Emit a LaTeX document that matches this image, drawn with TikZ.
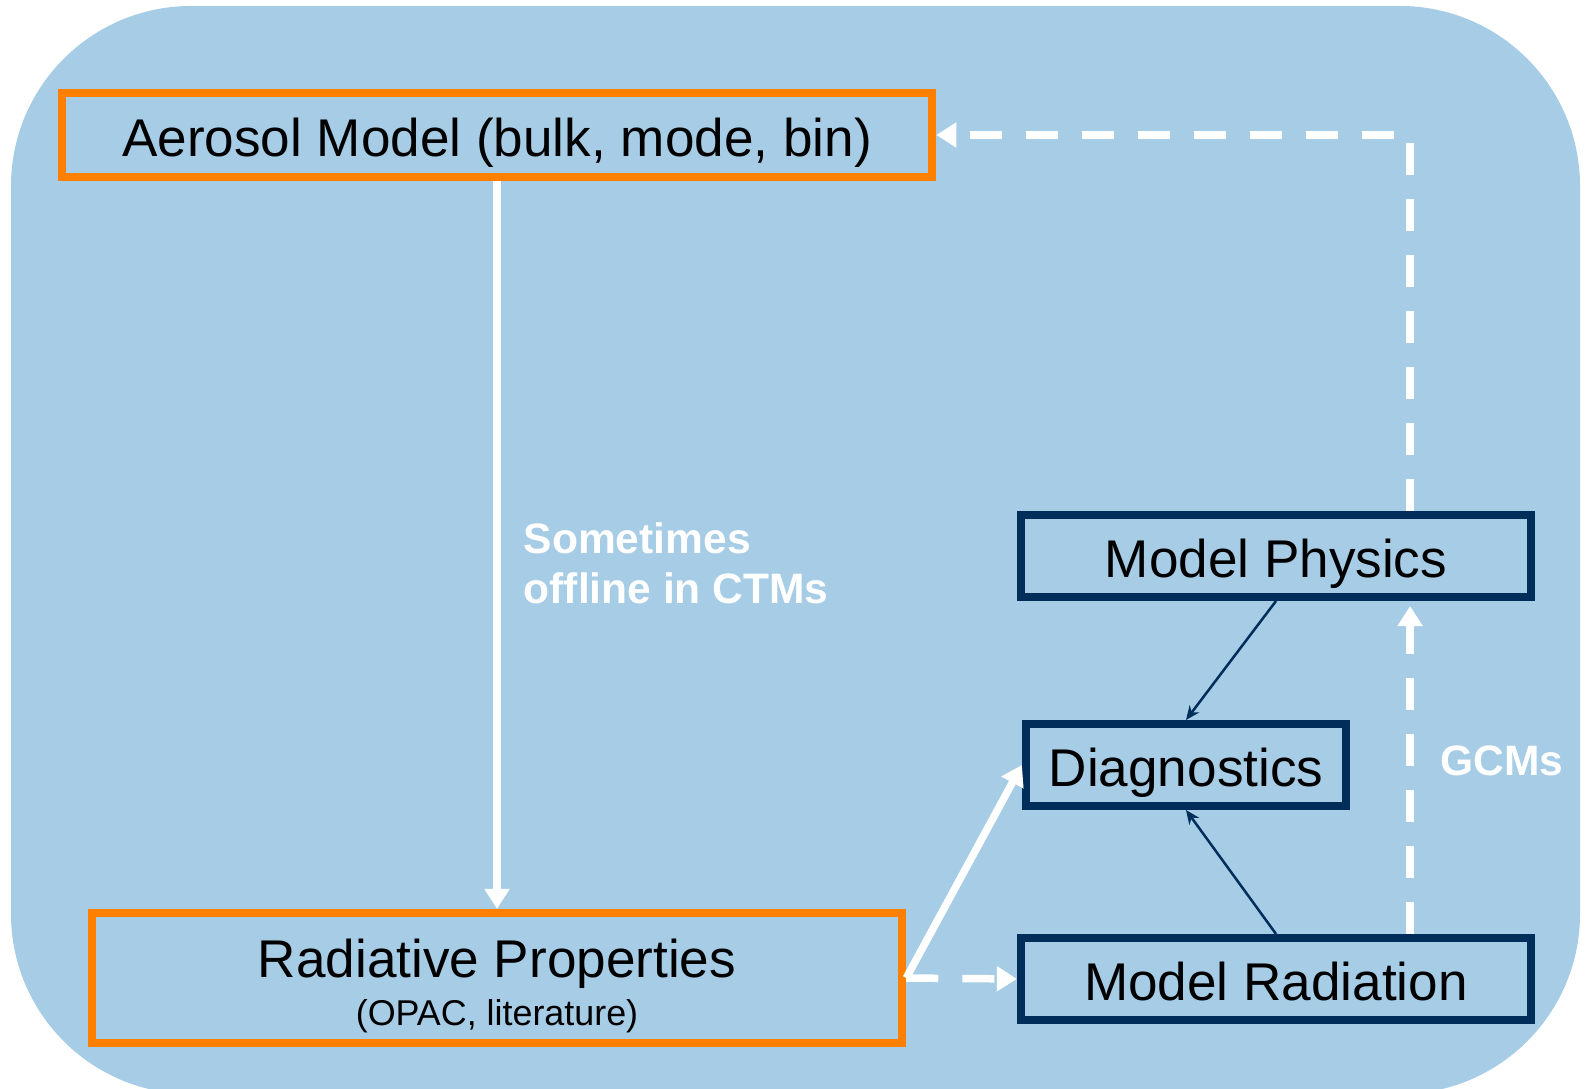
\documentclass[tikz,border=0pt]{standalone}
\usepackage{fontspec}
\setmainfont{Liberation Sans}
\usetikzlibrary{arrows.meta}

\definecolor{skyback}{RGB}{166,204,230}
\definecolor{boxorange}{RGB}{255,127,0}
\definecolor{boxnavy}{RGB}{0,45,90}

\tikzset{
	orangebox/.style={draw=boxorange,line width=0.08cm,inner sep=0pt},
	navybox/.style={draw=boxnavy,line width=0.08cm,inner sep=0pt,minimum height=0.82cm},
	bigtext/.style={font=\fontsize{15.1}{18}\selectfont,text height=0.5cm,text depth=0.07cm},
	note/.style={text=white,font=\fontsize{12.1}{14.2}\selectfont\bfseries,inner sep=0pt},
	whitearrow/.style={draw=white,line width=0.075cm,-{Triangle[length=0.2cm,width=0.24cm]}},
	dasharrow/.style={whitearrow,dash pattern=on 0.32cm off 0.24cm},
	navyarrow/.style={draw=boxnavy,line width=0.025cm,-{Stealth[length=0.14cm,width=0.12cm]}},
}

\begin{document}
\begin{tikzpicture}[x=0.01cm,y=-0.01cm]
	\useasboundingbox (0,0) rectangle (1585,1089);
	%background panel
	\begin{scope}
		\clip (0,0) rectangle (1585,1089);
		\fill[skyback,rounded corners=1.8cm] (11,6) rectangle (1580,1094);
	\end{scope}
	
	%aerosol side
	\node[orangebox,bigtext,minimum width=8.7cm,minimum height=0.83cm] (aerosol) at (497,135) {Aerosol Model (bulk, mode, bin)};
	\node[orangebox,minimum width=8.1cm,minimum height=1.3cm,align=center] (radprop) at (497,978)
		{{\fontsize{15.1}{18}\selectfont\rule{0pt}{15.5pt}Radiative Properties}\\[1.5pt]{\fontsize{10.2}{12}\selectfont (OPAC, literature)}};
	
	%model side
	\node[navybox,bigtext,minimum width=5.1cm] (physics) at (1276,556) {Model Physics};
	\node[navybox,bigtext,minimum width=3.2cm] (diag) at (1186,765) {Diagnostics};
	\node[navybox,bigtext,minimum width=5.1cm] (radmodel) at (1276,979) {Model Radiation};
	
	\node[note,anchor=west,align=left] (ctm) at (523,563) {Sometimes\\offline in CTMs};
	\node[note,anchor=base west] (gcm) at (1440,776) {GCMs};
	
	%connectors
	\draw[whitearrow] (aerosol.south) -- (aerosol.south |- radprop.north);
	\draw[whitearrow] (radprop.east) -- (diag.west);
	\draw[dasharrow] (radprop.east) -- (radmodel.west);
	\draw[navyarrow] (physics.south) -- (diag.north);
	\draw[navyarrow] (radmodel.north) -- (diag.south);
	
	\coordinate (gcmlow) at ([xshift=1.34cm]radmodel.north);
	\coordinate (gcmtop) at ([xshift=1.34cm]physics.north);
	\draw[dasharrow,shorten >=0.05cm] (gcmlow) -- (gcmlow |- physics.south);
	\draw[dasharrow] (gcmtop) |- (aerosol.east);
\end{tikzpicture}
\end{document}
